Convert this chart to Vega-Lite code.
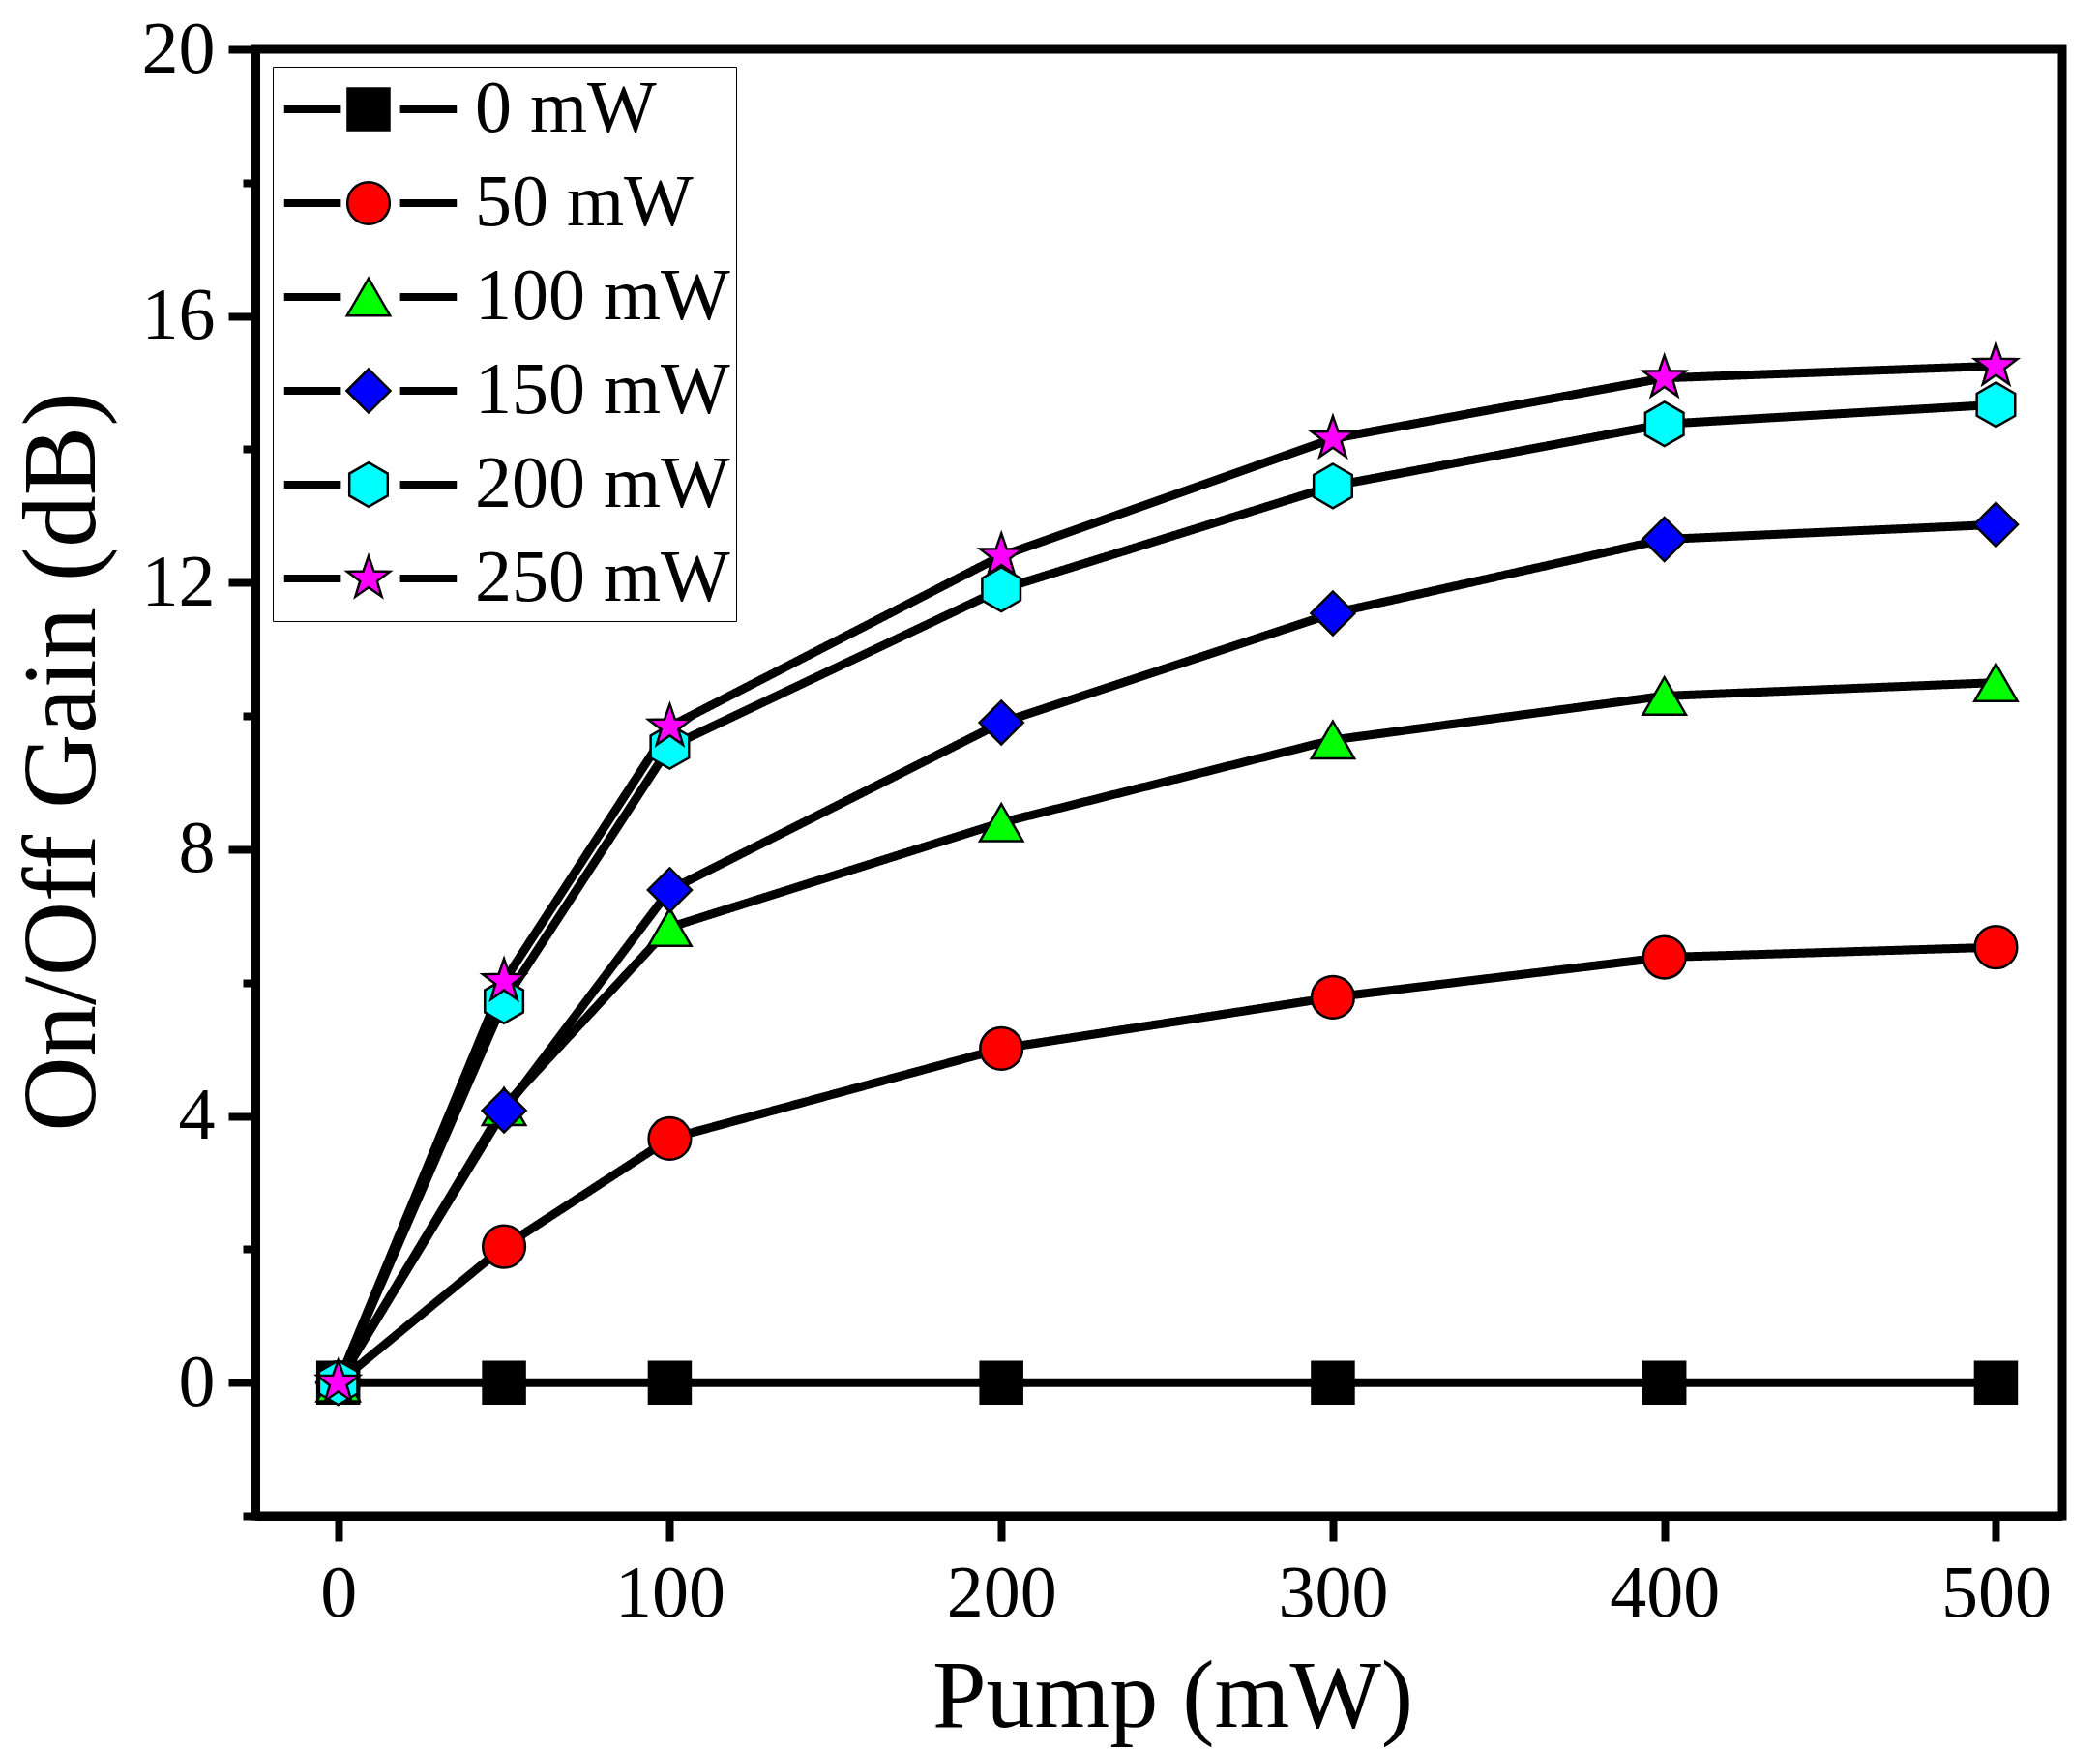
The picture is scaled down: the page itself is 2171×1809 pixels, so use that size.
{
  "$schema": "https://vega.github.io/schema/vega-lite/v6.json",
  "autosize": {"type": "none"},
  "padding": {"left": 264, "top": 51, "right": 39, "bottom": 242},
  "width": 1868,
  "height": 1516,
  "background": "white",
  "config": {
    "font": "Liberation Serif",
    "view": {"stroke": "black", "strokeWidth": 9},
    "axis": {
      "labelFont": "Liberation Serif",
      "titleFont": "Liberation Serif",
      "labelFontSize": 76,
      "titleFontSize": 100,
      "titleFontWeight": "normal",
      "labelColor": "black",
      "titleColor": "black",
      "domainColor": "black",
      "domainWidth": 9,
      "tickColor": "black",
      "tickWidth": 8,
      "grid": false
    }
  },
  "data": {
    "values": [
      {"pump": 0, "gain": 0, "series": "0 mW"},
      {"pump": 50, "gain": 0, "series": "0 mW"},
      {"pump": 100, "gain": 0, "series": "0 mW"},
      {"pump": 200, "gain": 0, "series": "0 mW"},
      {"pump": 300, "gain": 0, "series": "0 mW"},
      {"pump": 400, "gain": 0, "series": "0 mW"},
      {"pump": 500, "gain": 0, "series": "0 mW"},
      {"pump": 0, "gain": 0, "series": "50 mW"},
      {"pump": 50, "gain": 2.04, "series": "50 mW"},
      {"pump": 100, "gain": 3.66, "series": "50 mW"},
      {"pump": 200, "gain": 5.01, "series": "50 mW"},
      {"pump": 300, "gain": 5.78, "series": "50 mW"},
      {"pump": 400, "gain": 6.38, "series": "50 mW"},
      {"pump": 500, "gain": 6.53, "series": "50 mW"},
      {"pump": 0, "gain": 0, "series": "100 mW"},
      {"pump": 50, "gain": 4.14, "series": "100 mW"},
      {"pump": 100, "gain": 6.83, "series": "100 mW"},
      {"pump": 200, "gain": 8.4, "series": "100 mW"},
      {"pump": 300, "gain": 9.64, "series": "100 mW"},
      {"pump": 400, "gain": 10.3, "series": "100 mW"},
      {"pump": 500, "gain": 10.5, "series": "100 mW"},
      {"pump": 0, "gain": 0, "series": "150 mW"},
      {"pump": 50, "gain": 4.08, "series": "150 mW"},
      {"pump": 100, "gain": 7.39, "series": "150 mW"},
      {"pump": 200, "gain": 9.9, "series": "150 mW"},
      {"pump": 300, "gain": 11.54, "series": "150 mW"},
      {"pump": 400, "gain": 12.65, "series": "150 mW"},
      {"pump": 500, "gain": 12.87, "series": "150 mW"},
      {"pump": 0, "gain": 0, "series": "200 mW"},
      {"pump": 50, "gain": 5.72, "series": "200 mW"},
      {"pump": 100, "gain": 9.54, "series": "200 mW"},
      {"pump": 200, "gain": 11.9, "series": "200 mW"},
      {"pump": 300, "gain": 13.45, "series": "200 mW"},
      {"pump": 400, "gain": 14.38, "series": "200 mW"},
      {"pump": 500, "gain": 14.67, "series": "200 mW"},
      {"pump": 0, "gain": 0, "series": "250 mW"},
      {"pump": 50, "gain": 6.02, "series": "250 mW"},
      {"pump": 100, "gain": 9.84, "series": "250 mW"},
      {"pump": 200, "gain": 12.4, "series": "250 mW"},
      {"pump": 300, "gain": 14.16, "series": "250 mW"},
      {"pump": 400, "gain": 15.07, "series": "250 mW"},
      {"pump": 500, "gain": 15.25, "series": "250 mW"}
    ]
  },
  "encoding": {
    "x": {
      "field": "pump",
      "type": "quantitative",
      "title": "Pump (mW)",
      "scale": {"domain": [-25, 520], "nice": false, "zero": false},
      "axis": {
        "values": [0, 100, 200, 300, 400, 500],
        "tickSize": 26,
        "labelPadding": 17,
        "titlePadding": 20,
        "titleX": 948
      }
    },
    "y": {
      "field": "gain",
      "type": "quantitative",
      "title": "On/Off Gain (dB)",
      "scale": {"domain": [-2, 20], "nice": false, "zero": false},
      "axis": {
        "values": [-2, 0, 2, 4, 6, 8, 10, 12, 14, 16, 18, 20],
        "labelExpr": "datum.value % 4 === 0 ? datum.label : ''",
        "tickSize": 28,
        "tickDash": {"condition": {"test": "datum.value % 4 !== 0", "value": [13, 100]}, "value": [1000, 0]},
        "labelPadding": 14,
        "titleFontSize": 107,
        "titlePadding": 27,
        "titleY": 736
      }
    }
  },
  "layer": [
    {
      "mark": {"type": "line", "color": "black", "strokeWidth": 9, "strokeCap": "round", "strokeJoin": "round"},
      "encoding": {
        "detail": {"field": "series", "type": "nominal"},
        "strokeDash": {
          "field": "series",
          "type": "nominal",
          "sort": ["0 mW", "50 mW", "100 mW", "150 mW", "200 mW", "250 mW"],
          "scale": {"range": [[1, 0]]},
          "legend": {
            "title": null,
            "orient": "none",
            "legendX": 81,
            "legendY": 24,
            "padding": 0,
            "symbolType": "M-3.5,0H-1.2M1.2,0H3.5",
            "symbolSize": 2601,
            "symbolStrokeColor": "black",
            "symbolStrokeWidth": 8,
            "symbolFillColor": "transparent",
            "labelFontSize": 76,
            "labelFont": "Liberation Serif",
            "labelOpacity": 0,
            "labelLimit": 0,
            "rowPadding": 21
          }
        }
      }
    },
    {
      "mark": {"type": "point", "filled": true, "stroke": "black", "strokeWidth": 2.5, "opacity": 1},
      "encoding": {
        "shape": {
          "field": "series",
          "type": "nominal",
          "scale": {
            "domain": ["0 mW", "50 mW", "100 mW", "150 mW", "200 mW", "250 mW"],
            "range": ["square", "circle", "triangle-up", "diamond", "M0,-1L0.866,-0.5L0.866,0.5L0,1L-0.866,0.5L-0.866,-0.5Z", "M0,-1L0.235,-0.324L0.951,-0.309L0.38,0.124L0.588,0.809L0,0.4L-0.588,0.809L-0.38,0.124L-0.951,-0.309L-0.235,-0.324Z"]
          },
          "legend": {
            "title": null,
            "orient": "top-left",
            "offset": 18,
            "padding": 6,
            "strokeColor": "black",
            "symbolOffset": 55,
            "symbolStrokeColor": "black",
            "symbolStrokeWidth": 2.5,
            "labelFontSize": 76,
            "labelFont": "Liberation Serif",
            "labelColor": "black",
            "labelOffset": 72,
            "labelLimit": 0,
            "rowPadding": 21
          }
        },
        "fill": {
          "field": "series",
          "type": "nominal",
          "scale": {
            "domain": ["0 mW", "50 mW", "100 mW", "150 mW", "200 mW", "250 mW"],
            "range": ["#000000", "#ff0000", "#00ff00", "#0000ff", "#00ffff", "#ff00ff"]
          }
        },
        "size": {
          "field": "series",
          "type": "nominal",
          "scale": {
            "domain": ["0 mW", "50 mW", "100 mW", "150 mW", "200 mW", "250 mW"],
            "range": [1850, 2150, 3200, 3600, 2600, 2900]
          }
        }
      }
    }
  ]
}
